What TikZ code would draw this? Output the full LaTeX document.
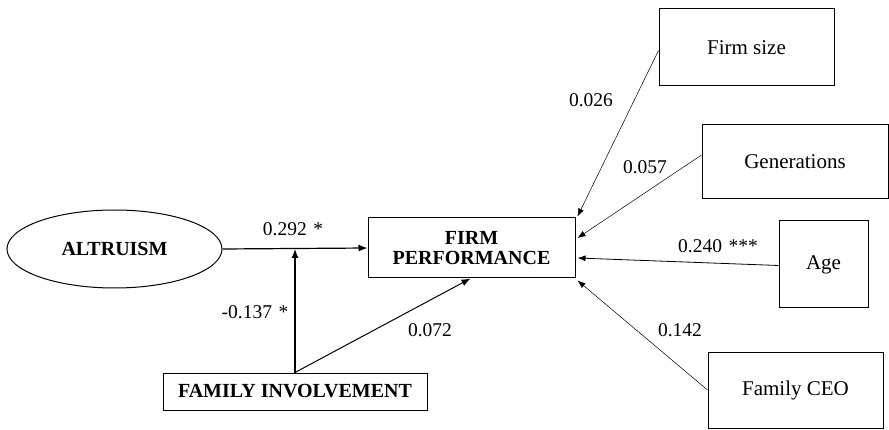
\documentclass[tikz,border=0pt]{standalone}
\usepackage{fontspec}
\setmainfont{Liberation Serif}
\usetikzlibrary{shapes.geometric,arrows.meta,calc}
\begin{document}
\begin{tikzpicture}[x=1pt,y=-1pt,
  every node/.style={font=\fontsize{19.5}{21}\selectfont},
  box/.style={draw,line width=1pt,rectangle,inner sep=0pt,align=center,font=\fontsize{21}{23}\selectfont},
  bbox/.style={box,font=\fontsize{20}{22}\selectfont\bfseries},
  main/.style={line width=1.2pt,-{Latex[length=9pt,width=7pt]}},
  ctrl/.style={line width=0.5pt,-{Latex[length=8pt,width=6pt]}},
  lab/.style={inner sep=0pt}]
\useasboundingbox (0,0) rectangle (889,430);
\node[draw,ellipse,line width=1pt,minimum width=215pt,minimum height=78pt,inner sep=0pt,font=\fontsize{20}{22}\selectfont\bfseries] (alt) at (114.5,249) {ALTRUISM};
\node[bbox,minimum width=207pt,minimum height=60pt] (fp) at (471.5,248) {FIRM\\[-2pt]PERFORMANCE};
\node[bbox,minimum width=264pt,minimum height=37pt] (fi) at (295,391.5) {FAMILY INVOLVEMENT};
\node[box,minimum width=175pt,minimum height=77pt] (fs) at (746.5,47.5) {Firm size};
\node[box,minimum width=186pt,minimum height=74pt] (gen) at (795,162) {Generations};
\node[box,minimum width=89pt,minimum height=87pt] (age) at (823.5,264.5) {Age};
\node[box,minimum width=175pt,minimum height=76pt] (ceo) at (795.5,390) {Family CEO};
\coordinate (m) at (295,249);
\draw[main] (alt.east) -- (fp.west);
\draw[main] (fi.north) -- (m);
\draw[main,line width=1pt] (fi.north) -- ($(fp.south)+(-1,0)$);
\draw[ctrl] ($(fs.west)+(0,3)$) -- ($(fp.north east)+(2,-1)$);
\draw[ctrl] ($(gen.west)+(0,-7)$) -- ($(fp.east)+(2,-10)$);
\draw[ctrl,line width=0.8pt] ($(age.west)+(0,1)$) -- ($(fp.east)+(2,10)$);
\draw[ctrl] (ceo.west) -- ($(fp.south east)+(2,2)$);
\node[lab] (l1) at (293,229) {0.292\,\,*};
\node[lab] (l2) at (255,312) {-0.137\,\,*};
\node[lab] (l3) at (430,330) {0.072};
\node[lab] (l4) at (591,100) {0.026};
\node[lab] (l5) at (645,167) {0.057};
\node[lab] (l6) at (718,246) {0.240\,\,***};
\node[lab] (l7) at (680,330) {0.142};
\end{tikzpicture}
\end{document}
